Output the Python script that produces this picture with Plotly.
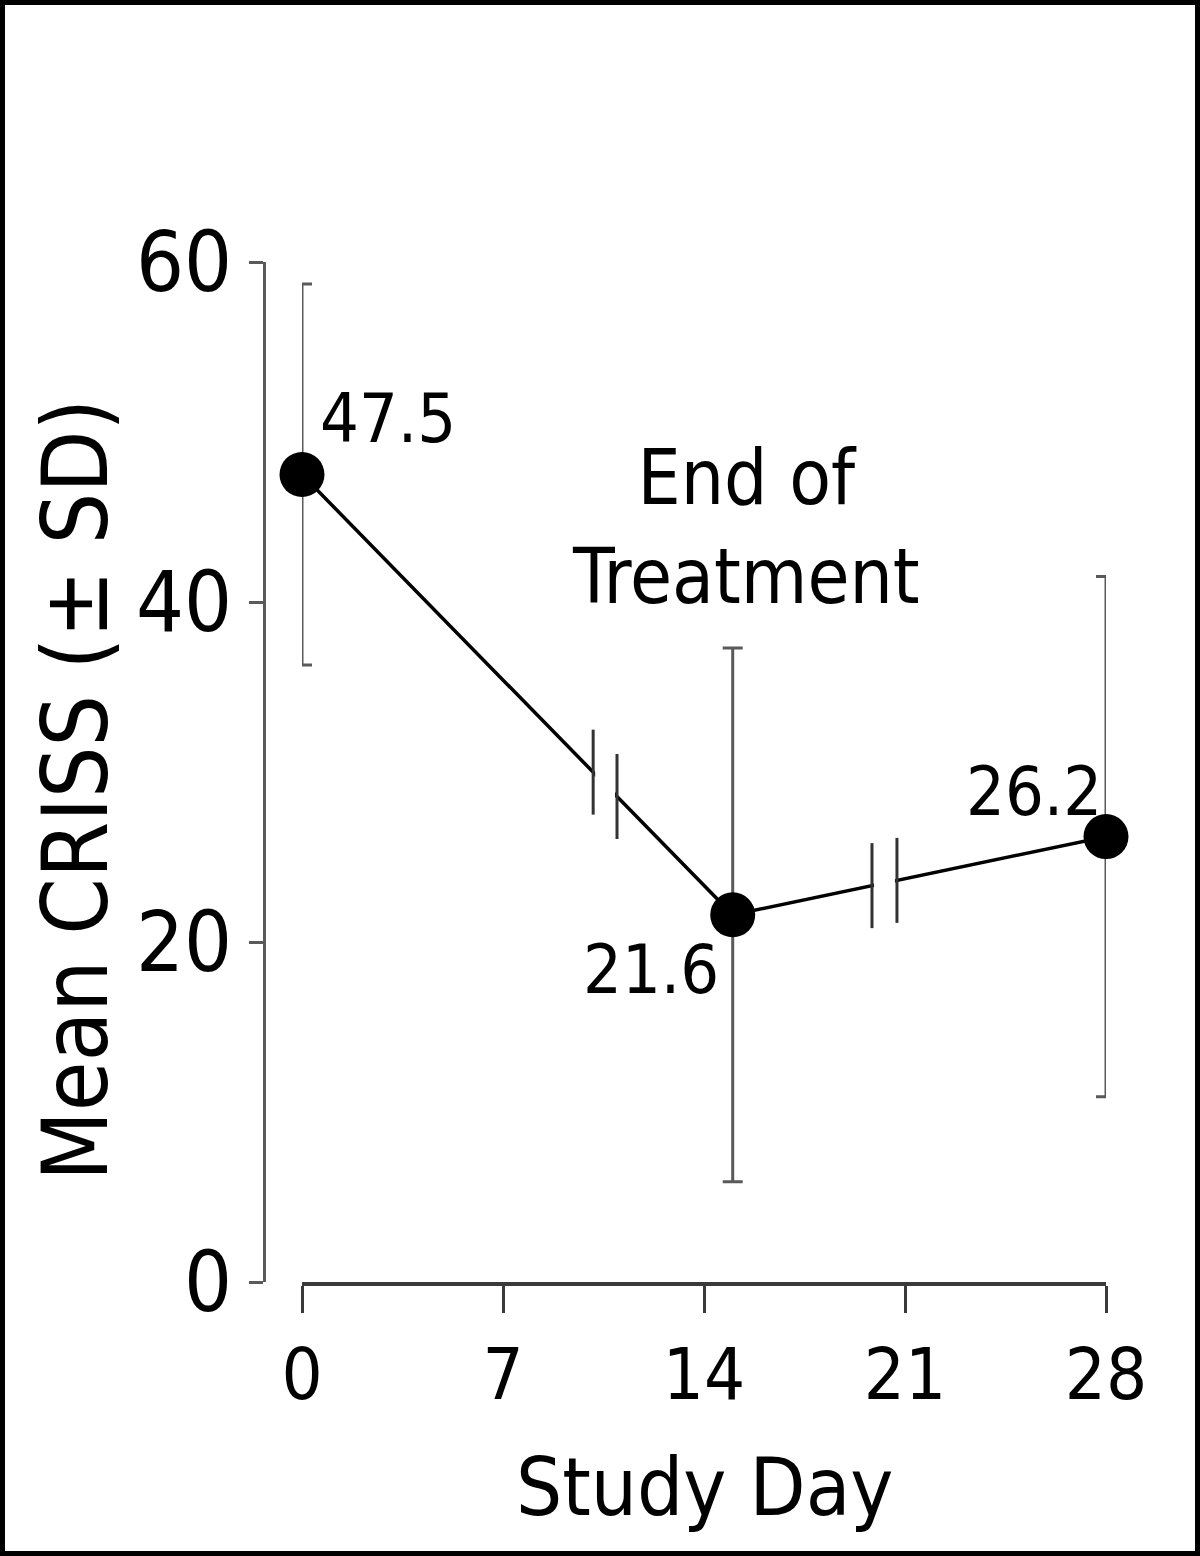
import plotly.graph_objects as go

# ---- data ----
study_day = [0, 15, 28]
mean_criss = [47.5, 21.6, 26.2]
sd_criss = [11.2, 15.7, 15.3]
value_labels = ["47.5", "21.6", "26.2"]
x_tickvals = [0, 7, 14, 21, 28]
x_ticktext = ["0", "7", "14", "21", "28"]
y_tickvals = [0, 20, 40, 60]
y_ticktext = ["0", "20", "40", "60"]
break_days = [(10.14, 10.97), (19.85, 20.72)]  # axis-break marks on the line

FONT = "DejaVu Sans Condensed, Liberation Sans Narrow, sans-serif"
GRAY = "#5a5a5a"

W, H = 1200, 1556
L, R, T, B = 264, 94, 262, 274
XSTART = 302
pw, ph = W - L - R, H - T - B


def px2paper_x(px):
    return (px - L) / pw


def px2paper_y(py):
    return (H - B - py) / ph


def interp(xv):
    for i in range(len(study_day) - 1):
        if study_day[i] <= xv <= study_day[i + 1]:
            t = (xv - study_day[i]) / (study_day[i + 1] - study_day[i])
            return mean_criss[i] + t * (mean_criss[i + 1] - mean_criss[i])
    return mean_criss[-1]


fig = go.Figure()
fig.add_trace(go.Scatter(
    x=study_day, y=mean_criss, mode="lines+markers",
    line=dict(color="black", width=3.5),
    marker=dict(color="black", size=45),
    error_y=dict(type="data", array=sd_criss, visible=True,
                 color=GRAY, thickness=3, width=10),
    cliponaxis=False, showlegend=False,
))

shapes = []
# break marks
for (a, b) in break_days:
    ya, yb = interp(a), interp(b)
    shapes.append(dict(type="rect", xref="x", yref="y", x0=a + 0.07, x1=b - 0.07,
                       y0=min(ya, yb) - 1.0, y1=max(ya, yb) + 1.0,
                       fillcolor="white", line=dict(width=0), layer="above"))
    for xv, yv in ((a, ya), (b, yb)):
        shapes.append(dict(type="line", xref="x", yref="y", x0=xv, x1=xv,
                           y0=yv - 2.5, y1=yv + 2.5,
                           line=dict(color="#333333", width=3), layer="above"))
# outer frame
shapes.append(dict(type="rect", xref="paper", yref="paper",
                   x0=px2paper_x(2.5), x1=px2paper_x(W - 2.5),
                   y0=px2paper_y(H - 2.5), y1=px2paper_y(2.5),
                   line=dict(color="black", width=5), fillcolor="rgba(0,0,0,0)"))

annotations = []
label_shift = [(86, 56), (-82, -55), (-72, 45)]
for xv, yv, txt, (dx, dy) in zip(study_day, mean_criss, value_labels, label_shift):
    annotations.append(dict(x=xv, y=yv, xref="x", yref="y", text=txt,
                            showarrow=False, xshift=dx, yshift=dy,
                            xanchor="center", yanchor="middle",
                            font=dict(family=FONT, size=68, color="black")))
annotations.append(dict(x=15, y=44.4, xref="x", yref="y", text="End of<br>Treatment",
                        showarrow=False, xshift=13, xanchor="center", yanchor="middle",
                        font=dict(family=FONT, size=76, color="black")))
annotations.append(dict(x=0, y=0.5, xref="paper", yref="paper",
                        text="Mean CRISS (± SD)", textangle=-90, showarrow=False,
                        xanchor="center", yanchor="middle",
                        xshift=-(L - 75), yshift=-18,
                        font=dict(family=FONT, size=90, color="black")))
annotations.append(dict(x=14, y=0, xref="x", yref="paper", text="Study Day",
                        showarrow=False, yshift=-205, xanchor="center", yanchor="middle",
                        font=dict(family=FONT, size=81, color="black")))

fig.update_layout(
    width=W, height=H,
    margin=dict(l=L, r=R, t=T, b=B),
    paper_bgcolor="white", plot_bgcolor="white",
    xaxis=dict(domain=[px2paper_x(XSTART), 1], range=[0, 28],
               tickvals=x_tickvals, ticktext=x_ticktext,
               showline=True, linecolor="#3a3a3a", linewidth=4,
               ticks="outside", ticklen=27, tickwidth=3, tickcolor="#3a3a3a",
               showgrid=False, zeroline=False,
               tickfont=dict(family=FONT, size=72, color="black")),
    yaxis=dict(range=[0, 60], anchor="free", position=0,
               tickvals=y_tickvals, ticktext=y_ticktext,
               showline=True, linecolor=GRAY, linewidth=3,
               ticks="outside", ticklen=14, tickwidth=3, tickcolor=GRAY,
               showgrid=False, zeroline=False,
               tickfont=dict(family=FONT, size=84, color="black")),
    shapes=shapes, annotations=annotations,
)

fig.write_html("out.html", config={"displayModeBar": False},
               post_script="document.body.style.margin='0';")
